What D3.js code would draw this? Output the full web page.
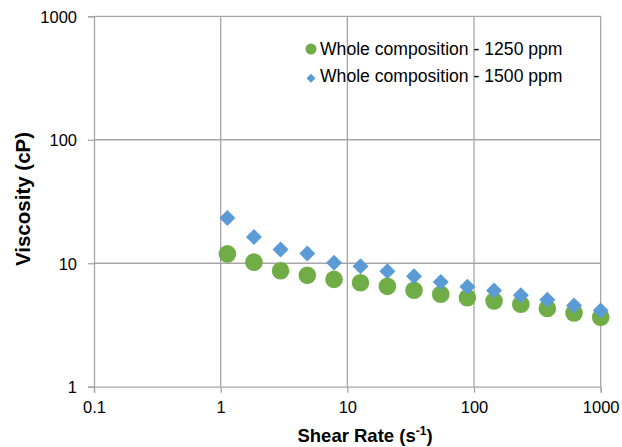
<!DOCTYPE html>
<html>
<head>
<meta charset="utf-8">
<script src="https://cdn.jsdelivr.net/npm/d3@7"></script>
<style>
  body { margin: 0; background: #fff; }
  text { font-family: "Liberation Sans", Arial, sans-serif; fill: #000; }
</style>
</head>
<body>
<script>
// shear rate (1/s) and viscosity (cP)
const shearRate = [1.13, 1.83, 2.97, 4.83, 7.85, 12.7, 20.7, 33.6, 54.6, 88.6, 144, 234, 379, 616, 1000];
const visc1250 = [11.9, 10.2, 8.7, 8.0, 7.4, 6.95, 6.5, 6.05, 5.6, 5.25, 4.95, 4.65, 4.3, 3.95, 3.65];
const visc1500 = [23.2, 16.3, 12.9, 12.0, 10.1, 9.45, 8.6, 7.85, 7.05, 6.45, 6.0, 5.5, 5.05, 4.55, 4.15];
const xTicks = [0.1, 1, 10, 100, 1000];
const yTicks = [1, 10, 100, 1000];
const seriesNames = ["Whole composition - 1250 ppm", "Whole composition - 1500 ppm"];

const width = 622, height = 447;
const margin = { top: 16.3, right: 21.3, bottom: 60.3, left: 94 };
const green = "#70ad47", blue = "#5b9bd5", grid = "#a6a6a6";

const svg = d3.select("body").append("svg")
  .attr("width", width)
  .attr("height", height);

const x = d3.scaleLog().domain([0.1, 1000]).range([margin.left, width - margin.right]);
const y = d3.scaleLog().domain([1, 1000]).range([height - margin.bottom, margin.top]);

// gridlines
svg.append("g").selectAll("line.v")
  .data(xTicks.slice(1))
  .join("line")
  .attr("x1", d => x(d)).attr("x2", d => x(d))
  .attr("y1", y(1)).attr("y2", y(1000))
  .attr("stroke", grid).attr("stroke-width", 1.3);
svg.append("g").selectAll("line.h")
  .data(yTicks.slice(1))
  .join("line")
  .attr("x1", x(0.1)).attr("x2", x(1000))
  .attr("y1", d => y(d)).attr("y2", d => y(d))
  .attr("stroke", grid).attr("stroke-width", 1.3);

// axes
const xAxis = svg.append("g")
  .attr("transform", `translate(0,${y(1)})`)
  .call(d3.axisBottom(x).tickValues(xTicks).tickFormat(d3.format("~g")).tickSize(6).tickPadding(9));
const yAxis = svg.append("g")
  .attr("transform", `translate(${x(0.1)},0)`)
  .call(d3.axisLeft(y).tickValues(yTicks).tickFormat(d3.format("~g")).tickSize(6).tickPadding(11));
[xAxis, yAxis].forEach(a => {
  a.select(".domain").attr("stroke", grid).attr("stroke-width", 1.3);
  a.selectAll(".tick line").attr("stroke", grid).attr("stroke-width", 1.3);
  a.selectAll(".tick text").attr("font-size", 16.5).attr("fill", "#000")
    .style("font-family", "'Liberation Sans', Arial, sans-serif");
});
yAxis.selectAll(".tick text").attr("dy", "0.36em");

// markers
svg.append("g").selectAll("circle")
  .data(shearRate.map((s, i) => [s, visc1250[i]]))
  .join("circle")
  .attr("cx", d => x(d[0])).attr("cy", d => y(d[1]))
  .attr("r", 8.8)
  .attr("fill", green);

svg.append("g").selectAll("path")
  .data(shearRate.map((s, i) => [s, visc1500[i]]))
  .join("path")
  .attr("d", d3.symbol(d3.symbolSquare, 128))
  .attr("transform", d => `translate(${x(d[0])},${y(d[1])}) rotate(45)`)
  .attr("fill", blue);

// legend
const legend = svg.append("g").attr("transform", "translate(311,49)");
legend.append("circle").attr("r", 5.5).attr("fill", green);
legend.append("path")
  .attr("d", d3.symbol(d3.symbolSquare, 40))
  .attr("transform", "translate(0,29.3) rotate(45)")
  .attr("fill", blue);
legend.selectAll("text")
  .data(seriesNames)
  .join("text")
  .attr("x", 9)
  .attr("y", (d, i) => 6 + i * 27.3)
  .attr("font-size", 17.6)
  .text(d => d);

// axis titles
const xt = svg.append("text")
  .attr("x", 365)
  .attr("y", 442)
  .attr("text-anchor", "middle")
  .attr("font-size", 18.5)
  .attr("font-weight", "bold");
xt.append("tspan").text("Shear Rate (s");
xt.append("tspan").attr("dy", -7).attr("font-size", 12).text("-1");
xt.append("tspan").attr("dy", 7).text(")");

svg.append("text")
  .attr("transform", `translate(30,199) rotate(-90)`)
  .attr("text-anchor", "middle")
  .attr("font-size", 20.5)
  .attr("font-weight", "bold")
  .text("Viscosity (cP)");
</script>
</body>
</html>
